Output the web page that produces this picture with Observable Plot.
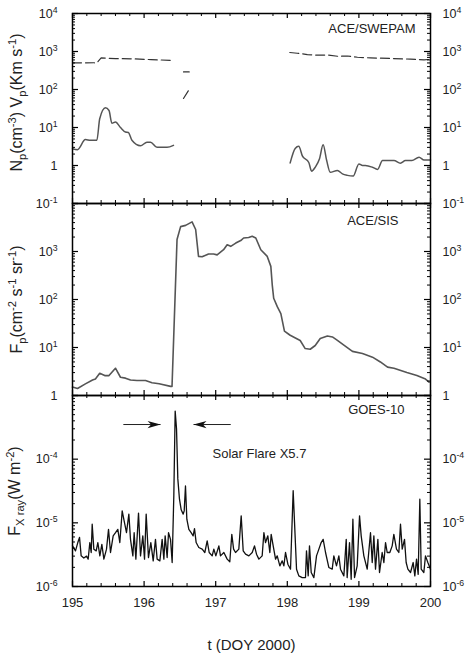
<!DOCTYPE html>
<html><head><meta charset="utf-8">
<script src="https://cdn.jsdelivr.net/npm/d3@7"></script>
<script src="https://cdn.jsdelivr.net/npm/@observablehq/plot@0.6"></script>
<style>
html,body{margin:0;padding:0;background:#fff;}
#wrap{position:relative;width:467px;height:655px;overflow:hidden;background:#fff;}
#wrap svg{position:absolute;left:0;top:0;}
</style></head><body><div id="wrap"></div>
<script>
// ---------- data ----------
// Panel 1: ACE/SWEPAM proton density Np (cm^-3), solid
const npDay = [195.00,195.07,195.18,195.25,195.34,195.38,195.46,195.51,195.55,195.60,195.67,195.74,195.78,195.83,195.95,196.04,196.09,196.18,196.32,196.41,
  196.41,
  198.04,198.11,198.16,198.21,198.30,198.34,198.39,198.45,198.50,198.55,198.60,198.70,198.77,198.84,198.92,199.00,199.05,199.09,199.19,199.26,199.33,199.49,199.58,199.65,199.74,199.84,199.91,200.00];
const npVal = [2.76,2.6,4.8,4.6,4.6,17,33,28,13,14,10,7.6,7.4,4.6,3.3,4.1,4.1,3.0,3.0,3.4,
  null,
  1.17,2.8,3.2,1.8,1.2,0.71,0.9,1.5,3.5,1.35,0.66,0.74,0.6,0.55,0.53,1.1,1.0,1.0,0.9,0.79,1.35,1.35,1.15,1.35,1.35,1.65,1.4,1.4];
// Panel 1: solar wind speed Vp (km s^-1), dashed
const vpDay = [195.00,195.30,195.34,195.40,195.60,195.85,196.10,196.42,
  196.42, 196.55,196.63, 196.63, 196.55,196.62, 196.62,
  198.035,198.14,198.28,198.42,198.56,198.70,198.84,198.98,199.16,199.44,199.72,199.91,200.00];
const vpVal = [500,505,505,680,650,640,610,580,
  null, 290,290, null, 58,94, null,
  940,900,830,800,810,750,760,705,680,655,630,605,620];
// Panel 2: ACE/SIS proton flux Fp
const fpDay = [195.00,195.07,195.18,195.28,195.32,195.38,195.45,195.51,195.60,195.67,195.74,195.81,195.90,196.02,196.11,196.21,196.37,196.39,
  196.46,196.51,196.58,196.67,196.72,196.76,196.81,196.90,196.97,197.02,197.11,197.16,197.21,197.28,197.35,197.39,197.46,197.51,197.56,197.63,
  197.72,197.77,197.79,197.81,197.86,197.91,197.96,198.04,198.18,198.25,198.32,198.39,198.46,198.56,198.63,198.70,198.79,198.91,199.05,199.19,
  199.30,199.40,199.49,199.67,199.81,199.93,199.98];
const fpVal = [1.5,1.4,1.75,2.1,2.2,2.9,2.6,2.6,3.7,2.4,2.3,2.1,2.05,2.05,1.85,1.75,1.55,1.55,
  1780,3300,3500,4150,2870,790,775,890,890,850,1090,1380,1280,1500,1690,1910,1960,2080,1910,1090,
  790,490,200,106,71,51,22,18,14,9.5,9.2,11,15.4,17.3,16.6,14.1,11.2,8.3,7.5,6.3,
  5.0,3.9,3.7,3.0,2.6,2.2,1.9];
// Panel 3: GOES-10 X-ray flux (W m^-2)
const xrDay = [195.000,195.042,195.074,195.098,195.121,195.158,195.196,195.219,195.242,195.261,195.275,195.298,195.331,195.354,195.382,195.410,195.438,195.475,195.503,195.531,
  195.568,195.601,195.633,195.661,195.694,195.726,195.754,195.787,195.810,195.843,195.861,195.885,195.922,195.950,195.982,196.006,196.029,196.061,196.094,196.127,
  196.159,196.182,196.220,196.252,196.276,196.294,196.322,196.341,196.369,196.392,196.415,196.434,196.453,196.471,196.494,196.518,196.546,196.560,196.578,196.597,
  196.625,196.657,196.685,196.704,196.727,196.764,196.811,196.848,196.881,196.909,196.951,196.974,197.002,197.044,197.067,197.114,197.160,197.197,197.225,197.250,
  197.277,197.323,197.356,197.384,197.417,197.463,197.510,197.542,197.570,197.603,197.649,197.673,197.696,197.728,197.756,197.775,197.803,197.836,197.859,197.896,
  197.929,197.952,197.975,198.008,198.045,198.082,198.101,198.129,198.161,198.208,198.254,198.268,198.292,198.310,198.334,198.371,198.408,198.441,198.473,198.501,
  198.534,198.580,198.627,198.650,198.687,198.720,198.743,198.790,198.823,198.836,198.869,198.892,198.916,198.939,198.976,199.009,199.032,199.069,199.116,199.162,
  199.186,199.209,199.232,199.265,199.288,199.325,199.349,199.372,199.395,199.432,199.465,199.488,199.525,199.558,199.581,199.605,199.637,199.660,199.684,199.721,
  199.758,199.781,199.805,199.828,199.851,199.870,199.907,199.930,199.963,200.000];
const xrVal = [4.35e-6,3.63e-6,4.9e-6,5.9e-6,3.03e-6,2.8e-6,3.0e-6,2.69e-6,4.9e-6,3.42e-6,9.5e-6,3.86e-6,3.63e-6,4.9e-6,3.03e-6,4.6e-6,2.69e-6,3.86e-6,7.9e-6,3.42e-6,
  6.25e-6,7.0e-6,7.9e-6,4.9e-6,1.54e-5,1.01e-5,7.0e-6,1.37e-5,5.5e-6,3.03e-6,7.0e-6,2.69e-6,1.42e-5,3.03e-6,6.25e-6,2.69e-6,1.37e-5,2.85e-6,4.9e-6,2.53e-6,
  5.5e-6,2.69e-6,2.53e-6,5.5e-6,2.69e-6,6.25e-6,2.85e-6,7.0e-6,5.5e-6,2.38e-6,2.65e-5,5.7e-4,2.96e-4,4.9e-5,2.35e-5,1.6e-5,1.37e-5,1.54e-5,3.8e-5,1.14e-5,
  7.9e-6,7.0e-6,6.25e-6,8.1e-6,4.9e-6,4.1e-6,3.86e-6,3.42e-6,5.2e-6,3.42e-6,3.03e-6,3.86e-6,3.03e-6,4.35e-6,3.03e-6,3.42e-6,2.69e-6,2.45e-6,6.6e-6,3.86e-6,
  3.42e-6,3.86e-6,1.29e-5,3.63e-6,3.22e-6,3.03e-6,3.42e-6,4.35e-6,3.22e-6,2.69e-6,3.03e-6,7.0e-6,4.9e-6,6.25e-6,3.42e-6,6.6e-6,4.35e-6,2.69e-6,3.03e-6,2.11e-6,
  2.53e-6,2.11e-6,3.42e-6,2.24e-6,1.87e-6,3.2e-5,1.01e-5,1.87e-6,1.47e-6,1.38e-6,1.38e-6,3.63e-6,1.47e-6,4.35e-6,1.66e-6,1.38e-6,3.03e-6,3.86e-6,4.9e-6,5.5e-6,
  3.42e-6,1.99e-6,1.87e-6,3.03e-6,2.11e-6,3.03e-6,1.87e-6,1.47e-6,5.5e-6,1.38e-6,4.9e-6,1.30e-6,1.14e-5,1.38e-6,2.11e-6,1.29e-5,6.25e-6,3.03e-6,1.87e-6,7.0e-6,
  2.38e-6,6.25e-6,1.87e-6,5.5e-6,1.66e-6,3.42e-6,2.38e-6,4.9e-6,3.42e-6,3.42e-6,4.35e-6,6.6e-6,3.86e-6,3.42e-6,9.5e-6,3.86e-6,5.5e-6,2.38e-6,1.87e-6,1.66e-6,
  2.38e-6,1.47e-6,2.69e-6,1.55e-6,2.35e-5,1.87e-6,1.66e-6,3.03e-6,2.38e-6,1.87e-6];
// annotation (data coordinates)
const flareArrows = [{from: 195.71, to: 196.23, flux: 3.5e-4}, {from: 197.21, to: 196.69, flux: 3.5e-4}];
const flareLabel = {text: "Solar Flare X5.7", day: 196.955, flux: 1.2e-4};
// tick labels
const dayTicks = [195, 196, 197, 198, 199, 200];
const p1Ticks = [1e4, 1e3, 1e2, 1e1, 1, 1e-1];
const p2Ticks = [1e3, 1e2, 1e1, 1];
const p3Ticks = [1e-4, 1e-5, 1e-6];

// ---------- layout ----------
const W = 467, H = 655, ML = 72, MR = 37, PW = W - ML - MR;
const FONT = "'Liberation Sans', Arial, Helvetica, sans-serif";
const TXT = "#222";

const rows = (xs, ys) => xs.map((d, i) => ({d, v: ys[i]}));
const expFmt = v => { const e = Math.round(Math.log10(v)); return e === 0 ? "1" : `10^{${e}}`; };
const minorX = d3.range(1, 25).filter(i => i % 5 !== 0).map(i => +(195 + i * 0.2).toFixed(1));
function logTicks([a, b]) {
  const e0 = Math.round(Math.log10(a)), e1 = Math.round(Math.log10(b));
  const maj = [], min = [];
  for (let e = e0; e <= e1; e++) {
    maj.push(+("1e" + e));
    if (e < e1) for (let k = 2; k <= 9; k++) min.push(+(k + "e" + e));
  }
  return {maj, min};
}

function panel({top, bottom, domain, labels, title, titleDx, titleDy, name, nameDx, nameDy, marks, xAxis}) {
  const PH = bottom - top;
  const {maj, min} = logTicks(domain);
  return Plot.plot({
    width: W, height: H,
    marginLeft: ML, marginRight: MR, marginTop: top, marginBottom: H - bottom,
    style: {background: "transparent", fontFamily: FONT, color: TXT, overflow: "visible"},
    x: {domain: [195, 200], axis: xAxis ? undefined : null},
    y: {type: "log", domain},
    marks: [
      ...marks,
      Plot.tickY(maj, {insetRight: PW - 6, stroke: "#000", strokeWidth: 1.2}),
      Plot.tickY(min, {insetRight: PW - 3, stroke: "#000", strokeWidth: 1}),
      Plot.tickY(maj, {insetLeft: PW - 6, stroke: "#000", strokeWidth: 1.2}),
      Plot.tickY(min, {insetLeft: PW - 3, stroke: "#000", strokeWidth: 1}),
      Plot.tickX(dayTicks, {insetBottom: PH - 5, stroke: "#000", strokeWidth: 1.2}),
      Plot.tickX(dayTicks, {insetTop: PH - 5, stroke: "#000", strokeWidth: 1.2}),
      Plot.tickX(minorX, {insetBottom: PH - 3, stroke: "#000", strokeWidth: 1}),
      Plot.tickX(minorX, {insetTop: PH - 3, stroke: "#000", strokeWidth: 1}),
      Plot.frame({stroke: "#000", strokeWidth: 1.5}),
      Plot.axisY(labels, {anchor: "left", tickSize: 0, tickPadding: 15, fontSize: 12.5, tickFormat: expFmt, label: null}),
      Plot.axisY(labels, {anchor: "right", tickSize: 0, tickPadding: 12, fontSize: 12.5, tickFormat: expFmt, label: null}),
      ...(xAxis ? [
        Plot.axisX(dayTicks, {anchor: "bottom", tickSize: 0, tickPadding: 11, fontSize: 13, tickFormat: d => String(d), label: null}),
        Plot.text(["t (DOY 2000)"], {text: d => d, frameAnchor: "bottom", dy: 59, lineAnchor: "middle", fontSize: 15, fill: TXT})
      ] : []),
      Plot.text([title], {text: d => d, frameAnchor: "left", dx: titleDx, dy: titleDy, rotate: -90, textAnchor: "middle", lineAnchor: "middle", fontSize: 16, fill: TXT}),
      Plot.text([name], {text: d => d, frameAnchor: "top-right", dx: nameDx, dy: nameDy, textAnchor: "end", lineAnchor: "middle", fontSize: 13, fill: TXT})
    ]
  });
}

const arrowHead = {draw(ctx) { ctx.moveTo(0, 0); ctx.lineTo(-13, -3.6); ctx.lineTo(-9.5, 0); ctx.lineTo(-13, 3.6); ctx.closePath(); }};

const p1 = panel({
  top: 13, bottom: 203, domain: [1e-1, 1e4], labels: p1Ticks,
  title: "N_{p}(cm^{-3}) V_{p}(Km s^{-1})", titleDx: -56, titleDy: -6,
  name: "ACE/SWEPAM", nameDx: -15, nameDy: 15,
  marks: [
    Plot.line(rows(vpDay, vpVal), {x: "d", y: "v", stroke: "#333", strokeWidth: 1.2, strokeDasharray: "9,4"}),
    Plot.line(rows(npDay, npVal), {x: "d", y: "v", stroke: "#555", strokeWidth: 1.5, curve: "monotone-x"})
  ]
});
const p2 = panel({
  top: 203, bottom: 395, domain: [1, 1e4], labels: p2Ticks,
  title: "F_{p}(cm^{-2} s^{-1} sr^{-1})", titleDx: -56, titleDy: 0,
  name: "ACE/SIS", nameDx: -32, nameDy: 17,
  marks: [
    Plot.line(rows(fpDay, fpVal), {x: "d", y: "v", stroke: "#555", strokeWidth: 1.6})
  ]
});
const p3 = panel({
  top: 395, bottom: 586, domain: [1e-6, 1e-3], labels: p3Ticks, xAxis: true,
  title: "F_{X ray}(W m^{-2})", titleDx: -58, titleDy: 0,
  name: "GOES-10", nameDx: -26, nameDy: 14,
  marks: [
    Plot.line(rows(xrDay, xrVal), {x: "d", y: "v", stroke: "#111", strokeWidth: 1.3}),
    Plot.link(flareArrows, {x1: "from", x2: "to", y1: "flux", y2: "flux", stroke: "#222", strokeWidth: 1}),
    Plot.dot(flareArrows, {x: "to", y: "flux", symbol: arrowHead, r: 5, fill: "#111", stroke: "none", rotate: d => d.to > d.from ? 0 : 180}),
    Plot.text([flareLabel], {x: "day", y: "flux", text: "text", textAnchor: "start", fontSize: 13, fill: TXT})
  ]
});

const wrap = document.getElementById("wrap");
[p1, p2, p3].forEach(svg => wrap.appendChild(svg));

// turn ^{..} / _{..} markup into raised / lowered tspans
const SVGNS = "http://www.w3.org/2000/svg";
function richify(svg) {
  svg.querySelectorAll("text").forEach(t => {
    const s = t.textContent;
    if (!/[\^_]\{/.test(s)) return;
    const fs = parseFloat(getComputedStyle(t).fontSize) || 12;
    t.textContent = "";
    const re = /([\^_])\{([^}]*)\}|([^\^_]+)/g;
    let m, shift = 0;
    while ((m = re.exec(s))) {
      const ts = document.createElementNS(SVGNS, "tspan");
      if (m[1]) {
        const target = m[1] === "^" ? -0.38 * fs : 0.25 * fs;
        ts.setAttribute("dy", (target - shift).toFixed(2));
        shift = target;
        ts.setAttribute("font-size", (0.7 * fs).toFixed(2));
        ts.textContent = m[2];
      } else {
        ts.setAttribute("dy", (-shift).toFixed(2));
        shift = 0;
        ts.textContent = m[3];
      }
      t.appendChild(ts);
    }
  });
}
[p1, p2, p3].forEach(richify);
</script>
</body></html>
